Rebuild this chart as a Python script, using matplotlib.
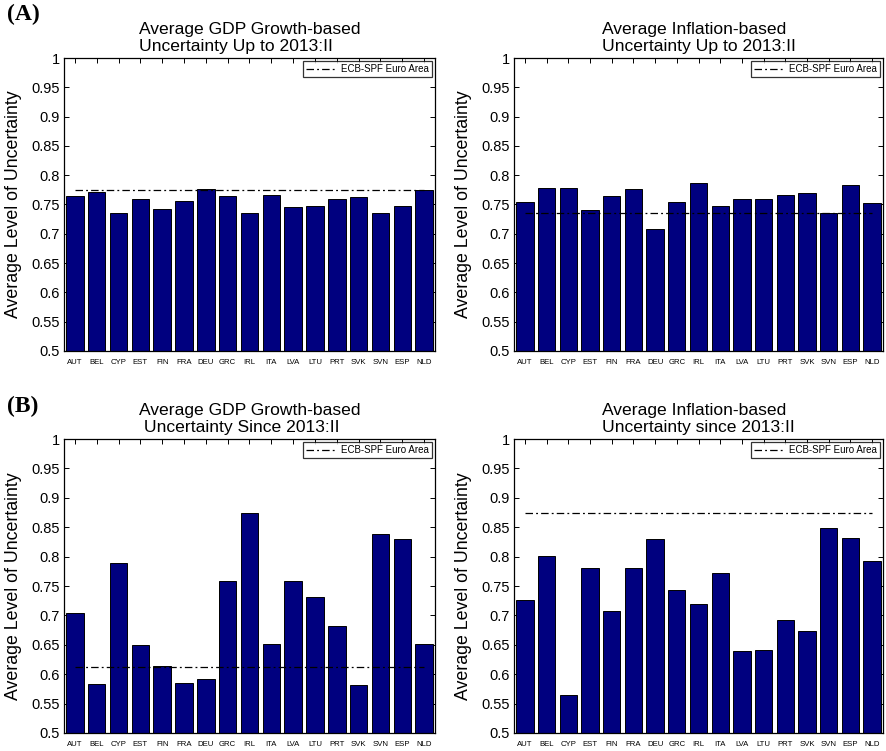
import matplotlib
matplotlib.use("Agg")
import matplotlib.pyplot as plt
import numpy as np

plt.rcParams["font.family"] = ["Liberation Sans", "DejaVu Sans"]

countries = ["AUT", "BEL", "CYP", "EST", "FIN", "FRA", "DEU", "GRC", "IRL",
             "ITA", "LVA", "LTU", "PRT", "SVK", "SVN", "ESP", "NLD"]

# average uncertainty by country, forecasts up to 2013:II
gdp_pre = [0.764, 0.771, 0.736, 0.760, 0.743, 0.756, 0.776, 0.764, 0.735,
           0.766, 0.745, 0.748, 0.760, 0.762, 0.736, 0.747, 0.774]
infl_pre = [0.755, 0.778, 0.779, 0.741, 0.764, 0.776, 0.709, 0.755, 0.787,
            0.747, 0.760, 0.759, 0.767, 0.769, 0.735, 0.783, 0.752]
# ... and since 2013:II
gdp_post = [0.704, 0.583, 0.789, 0.649, 0.614, 0.585, 0.591, 0.759, 0.874,
            0.651, 0.759, 0.731, 0.682, 0.582, 0.838, 0.830, 0.651]
infl_post = [0.727, 0.801, 0.565, 0.780, 0.707, 0.780, 0.830, 0.743, 0.719,
             0.772, 0.640, 0.642, 0.692, 0.673, 0.848, 0.832, 0.793]

# ECB survey of professional forecasters, euro-area aggregate
ecb_spf = {"gdp_pre": 0.774, "infl_pre": 0.735,
           "gdp_post": 0.612, "infl_post": 0.874}

panels = [
    ("gdp_pre", gdp_pre, "Average GDP Growth-based\nUncertainty Up to 2013:II"),
    ("infl_pre", infl_pre, "Average Inflation-based\nUncertainty Up to 2013:II"),
    ("gdp_post", gdp_post, "Average GDP Growth-based\n Uncertainty Since 2013:II"),
    ("infl_post", infl_post, "Average Inflation-based\nUncertainty since 2013:II"),
]

W, H = 886, 751
fig = plt.figure(figsize=(W / 100, H / 100), dpi=100)

# axes boxes in pixels: left, top, right, bottom
boxes = [(64, 58, 435, 351), (514, 58, 883, 351),
         (64, 439, 435, 733), (514, 439, 883, 733)]

bar_color = "#00007f"
yticks = np.arange(0.5, 1.0001, 0.05)
x = np.arange(1, len(countries) + 1)

for (key, vals, title), (l, t, r, b) in zip(panels, boxes):
    ax = fig.add_axes([l / W, 1 - b / H, (r - l) / W, (b - t) / H])
    ax.bar(x, vals, width=0.8, color=bar_color, edgecolor="black",
           linewidth=0.7, zorder=2)
    ax.plot([1, 17], [ecb_spf[key]] * 2, color="black", linewidth=0.9,
            linestyle=(0, (6, 2.5, 1.5, 2.5)), label="ECB-SPF Euro Area",
            zorder=3)
    ax.set_xlim(0.5, 17.5)
    ax.set_ylim(0.5, 1.0)
    ax.set_xticks(x)
    ax.set_xticklabels(countries, fontsize=5.6)
    ax.set_yticks(yticks)
    ax.set_yticklabels([f"{v:g}" for v in np.round(yticks, 2)], fontsize=10.5)
    ax.tick_params(direction="in", top=True, right=True, length=3.5,
                   width=0.7)
    ax.tick_params(axis="x", pad=6)
    ax.tick_params(axis="y", pad=3)
    for sp in ax.spines.values():
        sp.set_linewidth(0.9)
    ax.set_ylabel("Average Level of Uncertainty", fontsize=12.8, labelpad=7)
    ax.set_title(title, fontsize=12.6, linespacing=1.2, multialignment="left",
                 pad=5)
    leg = ax.legend(loc="upper right", fontsize=7, frameon=True,
                    fancybox=False, borderpad=0.3, handlelength=3.2,
                    handletextpad=0.4, borderaxespad=0.35)
    leg.get_frame().set_edgecolor("black")
    leg.get_frame().set_linewidth(0.9)

fig.text(7 / W, 1 - 4 / H, "(A)", fontsize=17, fontweight="bold",
         family="Liberation Serif", va="top", ha="left")
fig.text(7 / W, 1 - 396 / H, "(B)", fontsize=17, fontweight="bold",
         family="Liberation Serif", va="top", ha="left")

fig.savefig("out.png", dpi=100, facecolor="white")
